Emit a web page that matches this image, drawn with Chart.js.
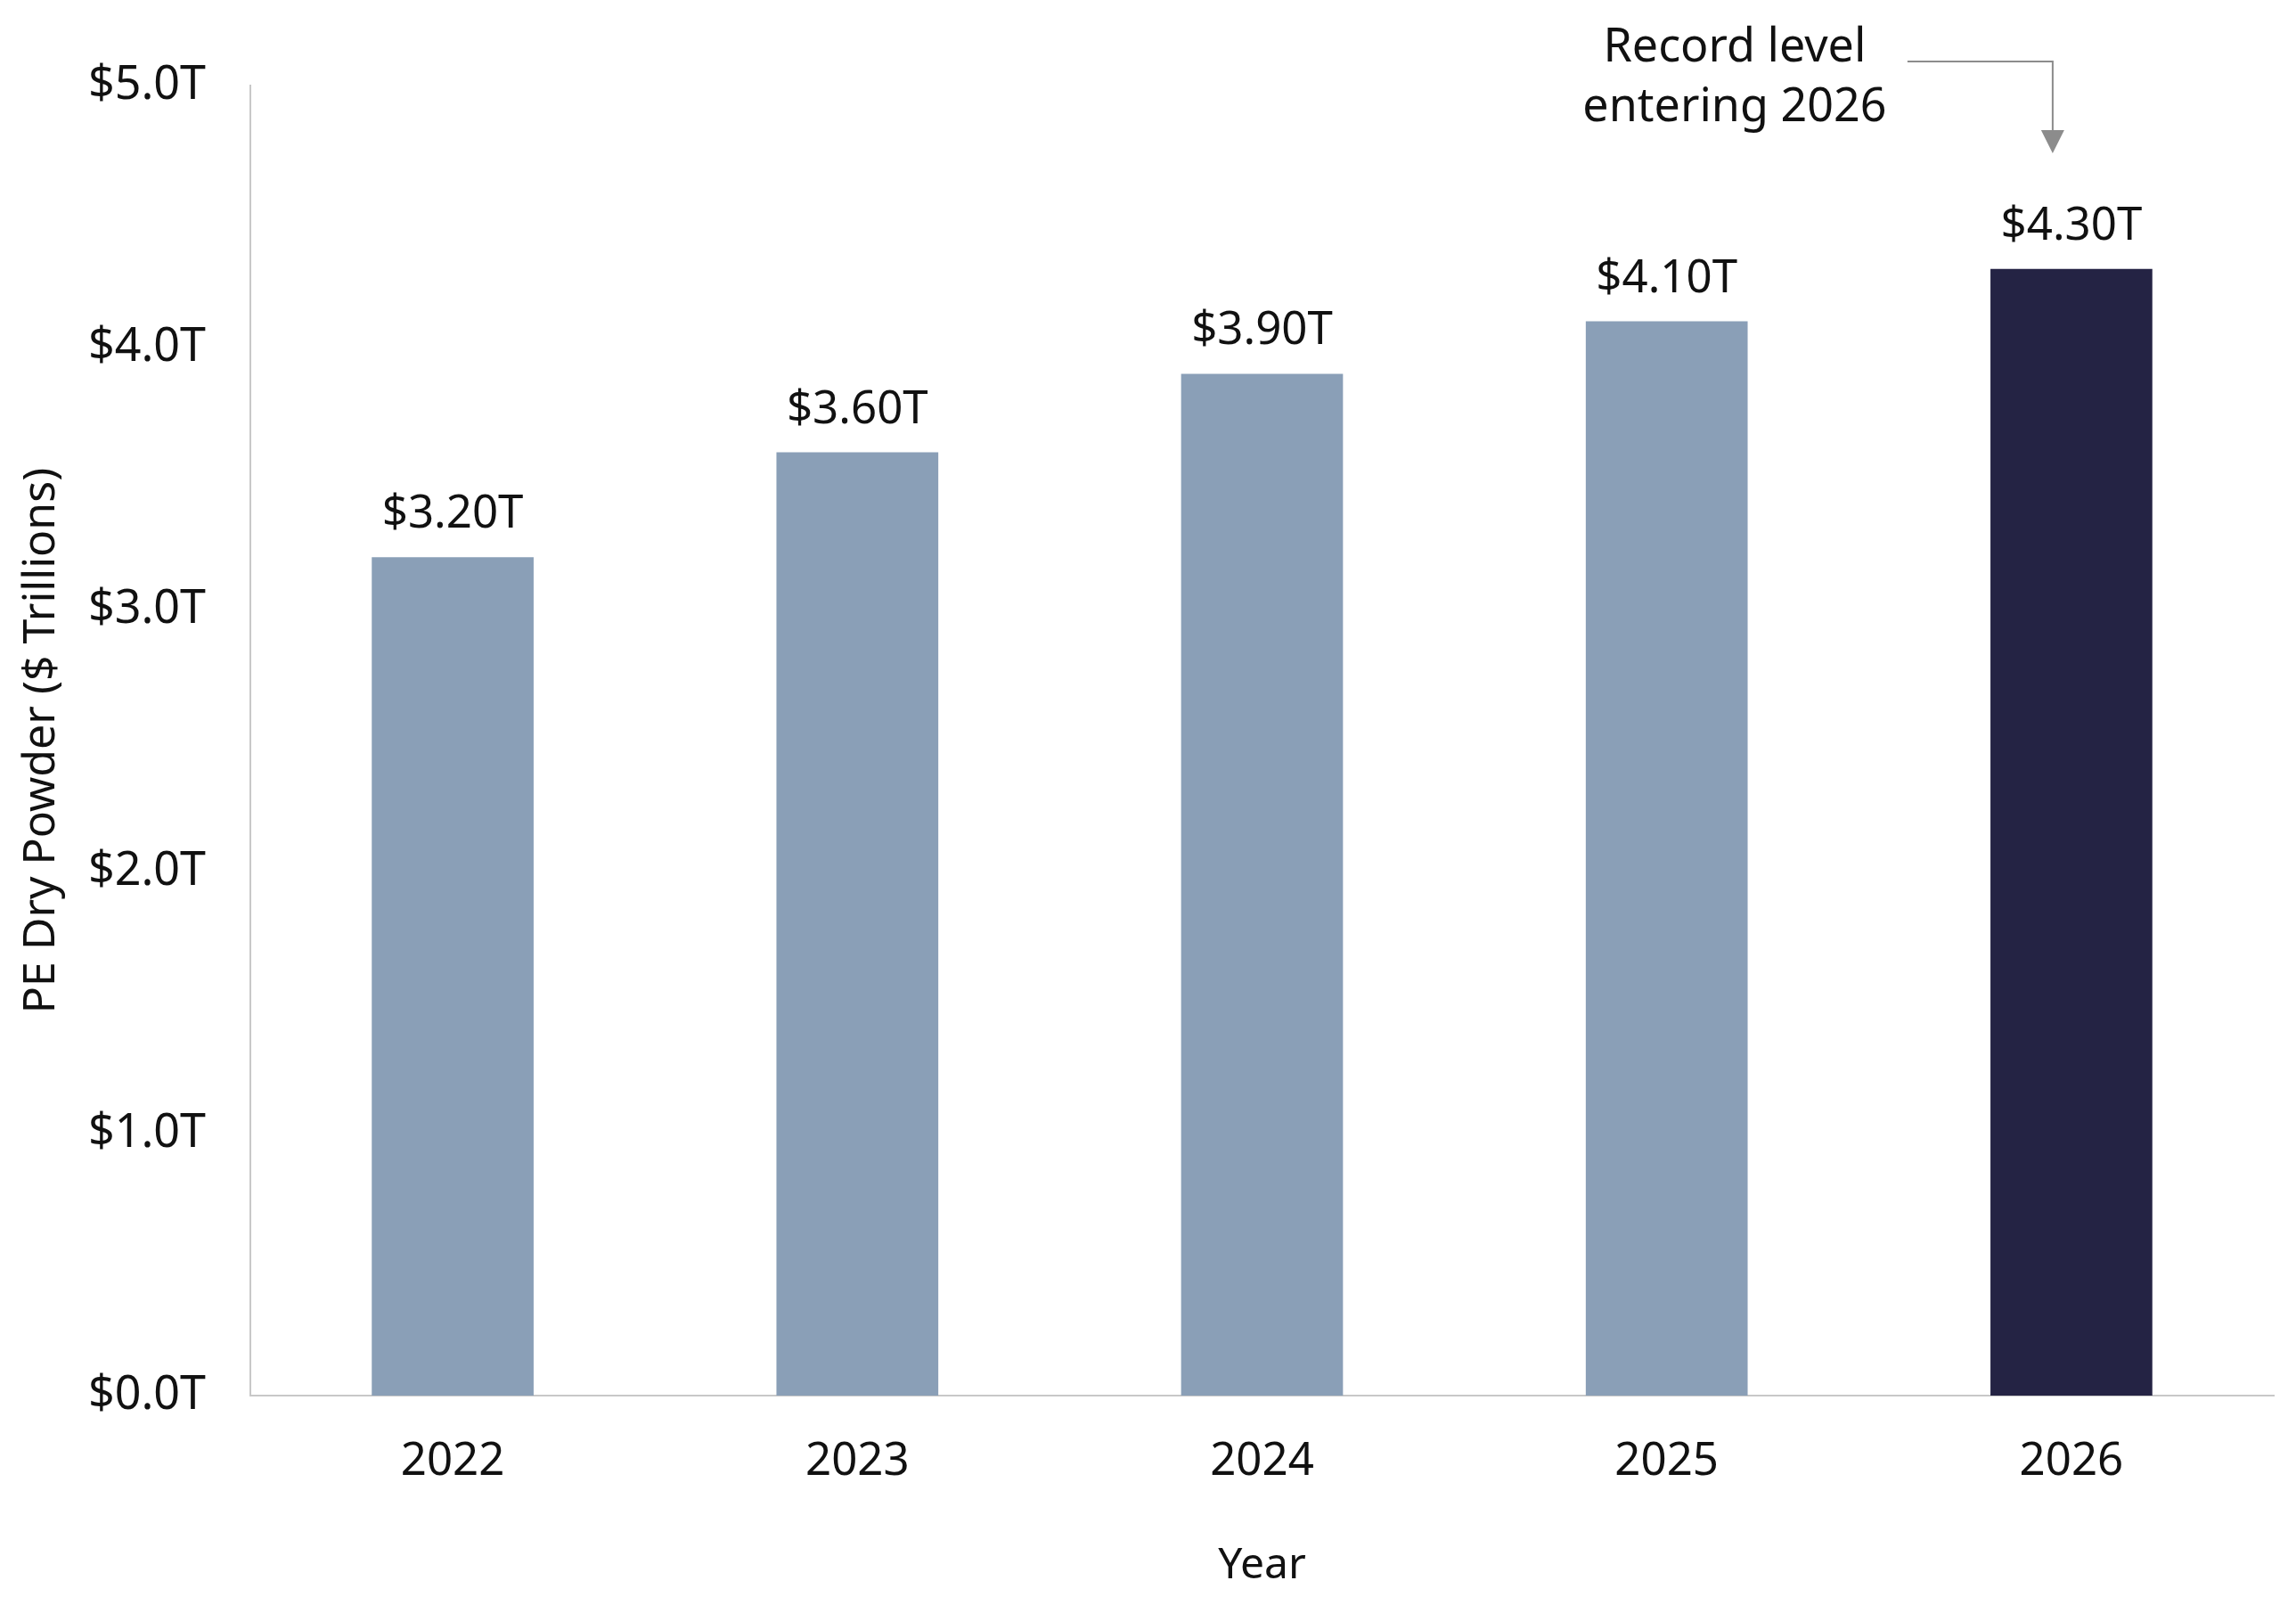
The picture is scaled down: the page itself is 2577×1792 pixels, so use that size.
<!DOCTYPE html>
<html lang="en">
<head>
    <meta charset="UTF-8">
    <title>PE Dry Powder</title>
    <script src="https://cdn.jsdelivr.net/npm/chart.js"></script>
    <style>
        html, body {
            margin: 0;
            padding: 0;
            background-color: white;
        }
        .chart-box {
            width: 2577px;
            height: 1792px;
            position: relative;
        }
    </style>
</head>
<body>
    <div class="chart-box">
        <canvas id="powderChart"></canvas>
    </div>

    <script>
        const years = ['2022', '2023', '2024', '2025', '2026'];
        const dryPowder = [3.2, 3.6, 3.9, 4.1, 4.3];
        const barColors = ['#8a9fb7', '#8a9fb7', '#8a9fb7', '#8a9fb7', '#242344'];
        const noteLines = ['Record level', 'entering 2026'];

        const FONT = '"Noto Sans", "Open Sans", sans-serif';

        // подписи над столбцами
        const valueLabels = {
            id: 'valueLabels',
            afterDatasetsDraw(chart) {
                const ctx = chart.ctx;
                const meta = chart.getDatasetMeta(0);
                ctx.save();
                ctx.fillStyle = '#111';
                ctx.font = '51px ' + FONT;
                ctx.textAlign = 'center';
                ctx.textBaseline = 'alphabetic';
                meta.data.forEach((bar, i) => {
                    ctx.fillText('$' + dryPowder[i].toFixed(2) + 'T', bar.x, bar.y - 33);
                });
                ctx.restore();
            }
        };

        // выноска со стрелкой к последнему столбцу
        const recordNote = {
            id: 'recordNote',
            afterDraw(chart) {
                const ctx = chart.ctx;
                const meta = chart.getDatasetMeta(0);
                const last = meta.data[meta.data.length - 1];
                const top = chart.chartArea.top;
                const ax = last.x - 21;
                ctx.save();
                ctx.strokeStyle = '#8c8c8c';
                ctx.fillStyle = '#8c8c8c';
                ctx.lineWidth = 2;
                ctx.beginPath();
                ctx.moveTo(ax - 163, top - 27);
                ctx.lineTo(ax, top - 27);
                ctx.lineTo(ax, top + 52);
                ctx.stroke();
                ctx.beginPath();
                ctx.moveTo(ax - 13, top + 50);
                ctx.lineTo(ax + 13, top + 50);
                ctx.lineTo(ax, top + 76);
                ctx.closePath();
                ctx.fill();

                ctx.fillStyle = '#111';
                ctx.font = '52px ' + FONT;
                ctx.textAlign = 'center';
                ctx.textBaseline = 'alphabetic';
                ctx.fillText(noteLines[0], ax - 357, top - 27);
                ctx.fillText(noteLines[1], ax - 357, top + 40);
                ctx.restore();
            }
        };

        new Chart(document.getElementById('powderChart'), {
            type: 'bar',
            data: {
                labels: years,
                datasets: [{
                    data: dryPowder,
                    backgroundColor: barColors,
                    barPercentage: 0.4,
                    categoryPercentage: 1.0
                }]
            },
            options: {
                responsive: true,
                maintainAspectRatio: false,
                animation: false,
                layout: {
                    padding: { top: 96, right: 25, bottom: 0, left: 0 }
                },
                plugins: {
                    legend: { display: false },
                    tooltip: { enabled: false }
                },
                scales: {
                    x: {
                        grid: { display: false, drawTicks: false, tickLength: 0 },
                        border: { display: true, color: '#c8c8c8', width: 2 },
                        ticks: {
                            color: '#111',
                            padding: 44,
                            font: { family: FONT, size: 51 }
                        },
                        title: {
                            display: true,
                            text: 'Year',
                            color: '#111',
                            padding: { top: 0, bottom: 6 },
                            font: { family: FONT, size: 48 }
                        },
                        afterFit: s => { s.height = 226; }
                    },
                    y: {
                        min: 0,
                        max: 5,
                        grid: { display: false, drawTicks: false, tickLength: 0 },
                        border: { display: true, color: '#c8c8c8', width: 2 },
                        ticks: {
                            stepSize: 1,
                            color: '#111',
                            padding: 50,
                            font: { family: FONT, size: 52 },
                            callback: v => '$' + Number(v).toFixed(1) + 'T'
                        },
                        title: {
                            display: true,
                            text: 'PE Dry Powder ($ Trillions)',
                            color: '#111',
                            padding: { top: 17, bottom: 0 },
                            font: { family: FONT, size: 50 }
                        },
                        afterFit: s => { s.width = 281; }
                    }
                }
            },
            plugins: [valueLabels, recordNote]
        });
    </script>
</body>
</html>
